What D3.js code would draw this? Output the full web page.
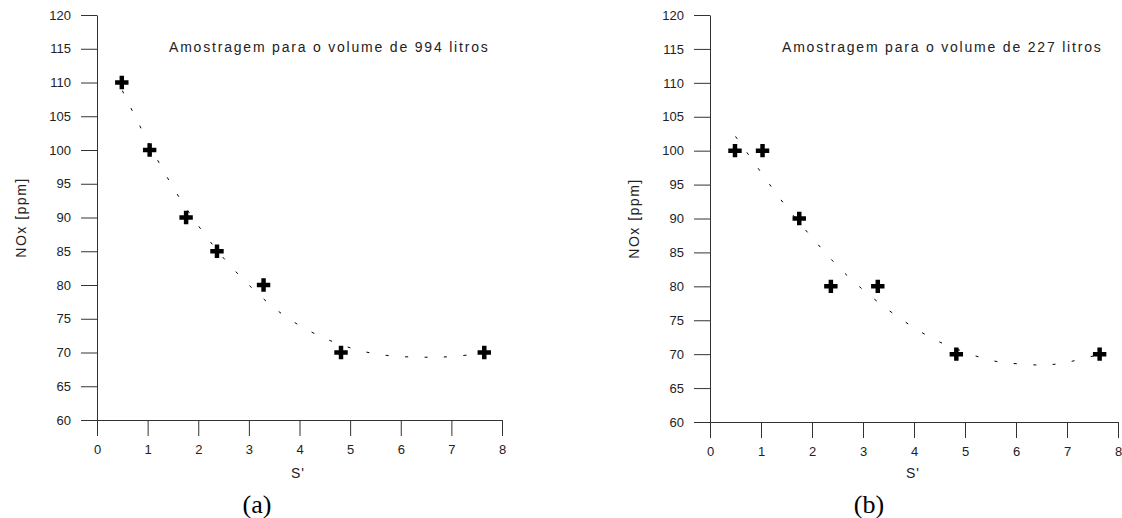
<!DOCTYPE html>
<html>
<head>
<meta charset="utf-8">
<script src="https://cdn.jsdelivr.net/npm/d3@7"></script>
<style>
  body { margin: 0; background: #fff; }
  text { font-family: Arial, "Liberation Sans", sans-serif; fill: #222; }
</style>
</head>
<body>
<script>
var WIDTH = 1122,
    HEIGHT = 518;

// measured points, S' vs NOx
var sA = [0.49, 1.04, 1.76, 2.37, 3.29, 4.82, 7.65];
var noxA = [110, 100, 90, 85, 80, 70, 70];
var sB = [0.49, 1.03, 1.75, 2.37, 3.29, 4.83, 7.64];
var noxB = [100, 100, 90, 80, 80, 70, 70];

// dashed trend curves
var fitSA = [0.5, 1, 1.5, 2, 2.5, 3, 3.5, 4, 4.5, 5, 5.5, 6, 6.5, 7, 7.65];
var fitNoxA = [108.8, 101.3, 94.5, 88.8, 84, 80, 76.6, 74, 72.1, 70.7, 69.8, 69.4, 69.3, 69.4, 69.9];
var fitSB = [0.5, 1, 1.5, 2, 2.5, 3, 3.5, 4, 4.5, 5, 5.5, 6, 6.5, 7, 7.65];
var fitNoxB = [102.1, 96.8, 91.7, 87.2, 83, 79.5, 76.5, 73.9, 71.8, 70.3, 69.1, 68.6, 68.4, 68.8, 70];

var yTicks = [60, 65, 70, 75, 80, 85, 90, 95, 100, 105, 110, 115, 120];
var xTicks = [0, 1, 2, 3, 4, 5, 6, 7, 8];
var titles = ["Amostragem para o volume de 994 litros", "Amostragem para o volume de 227 litros"];
var tags = ["(a)", "(b)"];

var svg = d3.select("body").append("svg")
    .attr("width", WIDTH)
    .attr("height", HEIGHT);

var panels = [
  {x0: 97, x1: 502, y0: 420, y1: 15, s: sA, nox: noxA, fs: fitSA, fn: fitNoxA, title: titles[0], tag: tags[0], tagX: 257, sX: 298},
  {x0: 710, x1: 1118, y0: 422, y1: 15, s: sB, nox: noxB, fs: fitSB, fn: fitNoxB, title: titles[1], tag: tags[1], tagX: 869, sX: 913}
];

panels.forEach(function(p){
  var x = d3.scaleLinear().domain([0, 8]).range([p.x0, p.x1]);
  var y = d3.scaleLinear().domain([60, 120]).range([p.y0, p.y1]);
  var g = svg.append("g");

  var xAxis = g.append("g")
    .attr("transform", "translate(0," + p.y0 + ")")
    .call(d3.axisBottom(x).tickValues(xTicks).tickSize(16).tickSizeOuter(0).tickPadding(9));
  var yAxis = g.append("g")
    .attr("transform", "translate(" + p.x0 + ",0)")
    .call(d3.axisLeft(y).tickValues(yTicks).tickSize(16).tickSizeOuter(0).tickPadding(10));

  [xAxis, yAxis].forEach(function(a){
    a.select(".domain").attr("stroke", "#333");
    a.selectAll(".tick line").attr("stroke", "#333");
    a.selectAll(".tick text")
      .style("font-family", "Arial, 'Liberation Sans', sans-serif")
      .style("font-size", "13px")
      .attr("fill", "#222");
  });

  // dashed trend
  var line = d3.line()
    .x(function(d){ return x(d[0]); })
    .y(function(d){ return y(d[1]); })
    .curve(d3.curveNatural);
  g.append("path")
    .datum(d3.zip(p.fs, p.fn))
    .attr("d", line)
    .attr("fill", "none")
    .attr("stroke", "#000")
    .attr("stroke-width", 1)
    .attr("stroke-dasharray", "3,16.5");

  g.selectAll(".pt")
    .data(d3.zip(p.s, p.nox))
    .enter().append("path")
    .attr("class", "pt")
    .attr("transform", function(d){ return "translate(" + x(d[0]) + "," + y(d[1]) + ")"; })
    .attr("d", d3.symbol(d3.symbolCross, 100))
    .attr("fill", "#000");

  g.append("text")
    .attr("x", p.x0 + 72)
    .attr("y", 52)
    .style("font-size", "14px")
    .style("letter-spacing", "1.8px")
    .text(p.title);

  g.append("text")
    .attr("transform", "translate(" + (p.x0 - 71) + "," + ((p.y0 + p.y1) / 2) + ") rotate(-90)")
    .attr("text-anchor", "middle")
    .style("font-size", "14px")
    .style("letter-spacing", "1.5px")
    .text("NOx [ppm]");

  g.append("text")
    .attr("x", p.sX)
    .attr("y", 478)
    .attr("text-anchor", "middle")
    .style("font-size", "14px")
    .style("letter-spacing", "1px")
    .text("S'");

  g.append("text")
    .attr("x", p.tagX)
    .attr("y", 513)
    .attr("text-anchor", "middle")
    .style("font-family", "'Liberation Serif', 'Times New Roman', serif")
    .style("font-size", "26px")
    .style("fill", "#000")
    .text(p.tag);
});
</script>
</body>
</html>
